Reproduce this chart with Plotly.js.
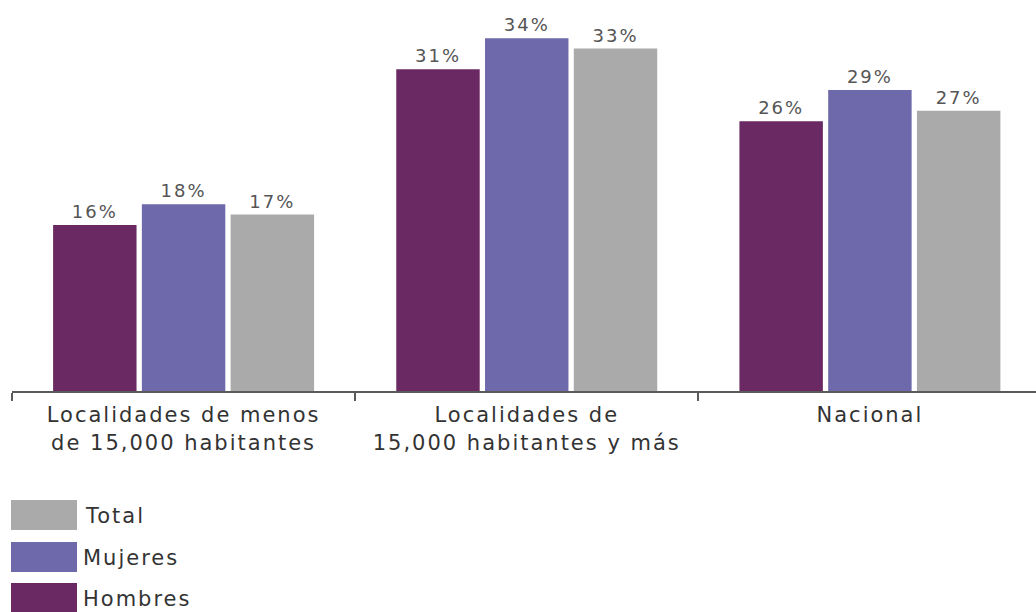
<!DOCTYPE html>
<html>
<head>
<meta charset="utf-8">
<script src="https://cdn.plot.ly/plotly-3.0.1.min.js"></script>
<style>
html,body{margin:0;padding:0;overflow:hidden;background:#fff;}
#chart text{letter-spacing:2px;}
</style>
</head>
<body>
<div id="chart" style="width:1036px;height:612px;"></div>
<script>
const categories = ["Localidades de menos<br>de 15,000 habitantes", "Localidades de<br>15,000 habitantes y más", "Nacional"];
const seriesNames = ["Hombres", "Mujeres", "Total"];
const hombres = [16, 31, 26];
const mujeres = [18, 34, 29];
const total = [17, 33, 27];
const colors = ["#6a2962", "#6d69aa", "#aaaaab"];

const values = [hombres, mujeres, total];
const traces = values.map((v, i) => ({
  type: "bar",
  name: seriesNames[i],
  x: categories,
  y: v,
  marker: {color: colors[i]},
  texttemplate: "%{y}%",
  textposition: "outside",
  cliponaxis: false,
  textfont: {family: "DejaVu Sans", size: 18, color: "#555555"},
  hoverinfo: "skip",
  showlegend: false
}));

// plot geometry (pixels)
const W = 1036, H = 612, mL = 12, mR = 0, mT = 7, mB = 221;
const plotW = W - mL - mR, plotH = H - mT - mB;
const px = x => (x - mL) / plotW;
const py = y => (H - mB - y) / plotH;

// custom legend (Total, Mujeres, Hombres from top)
const legendOrder = [2, 1, 0];
const legendTops = [500, 542, 583];
const shapes = [];
const annotations = [];
legendOrder.forEach((si, k) => {
  const top = legendTops[k];
  shapes.push({
    type: "rect", xref: "paper", yref: "paper",
    x0: px(11), x1: px(77), y0: py(top + 30), y1: py(top),
    fillcolor: colors[si], line: {width: 0}
  });
  annotations.push({
    xref: "paper", yref: "paper", x: px(88), y: py(top + 16),
    xanchor: "left", yanchor: "middle", showarrow: false,
    text: seriesNames[si],
    font: {family: "DejaVu Sans", size: 21, color: "#333333"}
  });
});

const layout = {
  width: W, height: H,
  margin: {l: mL, r: mR, t: mT, b: mB, pad: 0},
  paper_bgcolor: "#ffffff",
  plot_bgcolor: "#ffffff",
  barmode: "group",
  bargap: 0.224,
  bargroupgap: 0.06,
  showlegend: false,
  xaxis: {
    type: "category",
    range: [-0.5, 2.484],
    tickson: "boundaries",
    ticks: "outside",
    ticklen: 8,
    tickwidth: 2,
    tickcolor: "#5a5a5a",
    ticklabelstandoff: 4,
    showline: true,
    linecolor: "#5a5a5a",
    linewidth: 2,
    showgrid: false,
    zeroline: false,
    tickfont: {family: "DejaVu Sans", size: 21, color: "#333333"},
    fixedrange: true
  },
  yaxis: {
    range: [0, 37],
    visible: false,
    showgrid: false,
    zeroline: false,
    fixedrange: true
  },
  shapes: shapes,
  annotations: annotations
};

Plotly.newPlot("chart", traces, layout, {displayModeBar: false, staticPlot: true});
</script>
</body>
</html>
